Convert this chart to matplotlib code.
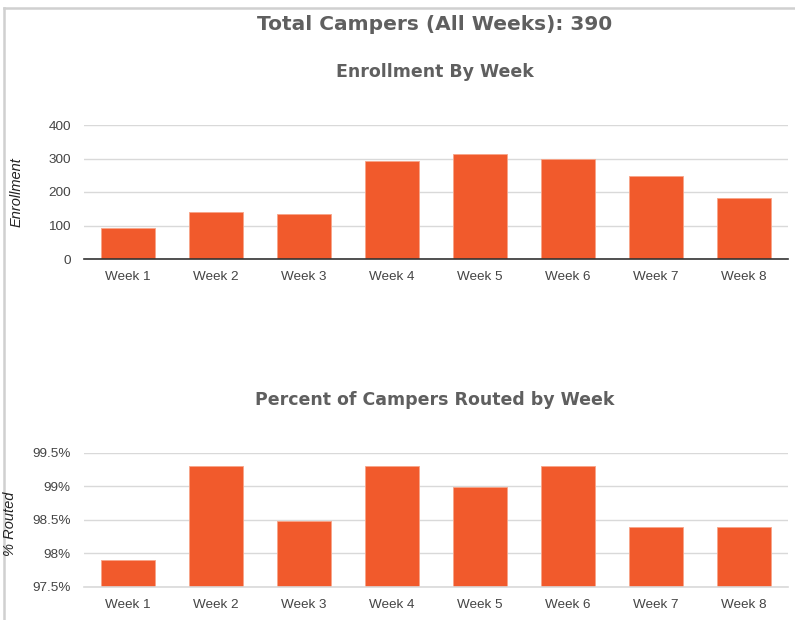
import numpy as np
import matplotlib.pyplot as plt
from matplotlib.lines import Line2D

weeks = ["Week 1", "Week 2", "Week 3", "Week 4", "Week 5", "Week 6", "Week 7", "Week 8"]
enrollment = [92, 140, 133, 293, 313, 298, 248, 183]
pct_routed = [97.9, 99.3, 98.48, 99.3, 98.99, 99.3, 98.39, 98.39]
total_campers = 390

enroll_ticks = [0, 100, 200, 300, 400]
pct_ticks = [97.5, 98.0, 98.5, 99.0, 99.5]
pct_tick_labels = ["97.5%", "98%", "98.5%", "99%", "99.5%"]

bar_color = "#f15a2c"
title_color = "#5f5f5f"
tick_color = "#444444"
grid_color = "#d9d9d9"

plt.rcParams["font.family"] = ["Liberation Sans", "DejaVu Sans"]

fig = plt.figure(figsize=(7.95, 6.2), dpi=100)
W, H = 795, 620


def px_axes(left, top, right, bottom):
    return fig.add_axes([left / W, 1 - bottom / H, (right - left) / W, (bottom - top) / H])


def style_axes(ax, ticks, labels, ymin, ymax, base_color):
    x = np.arange(len(weeks))
    ax.set_xlim(-0.5, len(weeks) - 0.5)
    ax.set_ylim(ymin, ymax)
    ax.set_yticks(ticks)
    ax.set_yticklabels(labels)
    ax.set_xticks(x)
    ax.set_xticklabels(weeks)
    ax.tick_params(axis="both", length=0, labelsize=9.7, colors=tick_color)
    ax.tick_params(axis="x", pad=9)
    ax.tick_params(axis="y", pad=9.5)
    ax.grid(axis="y", color=grid_color, linewidth=1)
    ax.set_axisbelow(True)
    for s in ["top", "right", "left"]:
        ax.spines[s].set_visible(False)
    ax.spines["bottom"].set_color(base_color)
    ax.spines["bottom"].set_linewidth(1.2)
    ax.spines["bottom"].set_zorder(3)


# top chart
ax1 = px_axes(84, 125, 788, 259)
x = np.arange(len(weeks))
ax1.bar(x, enrollment, width=0.615, color=bar_color, edgecolor="#f7a488", linewidth=0.6, zorder=2)
style_axes(ax1, enroll_ticks, [str(t) for t in enroll_ticks], 0, 400, "#333333")

# bottom chart
ax2 = px_axes(84, 452.7, 788, 586.7)
ax2.bar(x, np.array(pct_routed) - 97.5, bottom=97.5, width=0.615, color=bar_color,
        edgecolor="#f7a488", linewidth=0.6, zorder=2)
style_axes(ax2, pct_ticks, pct_tick_labels, 97.5, 99.5, grid_color)

# titles
fig.text(435 / W, 1 - 24 / H, f"Total Campers (All Weeks): {total_campers}", ha="center", va="center",
         fontsize=14.5, fontweight="bold", color=title_color, family=["DejaVu Sans"])
fig.text(435 / W, 1 - 72 / H, "Enrollment By Week", ha="center", va="center",
         fontsize=12.5, fontweight="bold", color=title_color, family=["DejaVu Sans"])
fig.text(435 / W, 1 - 400 / H, "Percent of Campers Routed by Week", ha="center", va="center",
         fontsize=12.5, fontweight="bold", color=title_color, family=["DejaVu Sans"])

# axis labels
fig.text(17 / W, 1 - 192 / H, "Enrollment", rotation=90, ha="center", va="center",
         fontsize=10.5, style="italic", color="#222222")
fig.text(10 / W, 1 - 524 / H, "% Routed", rotation=90, ha="center", va="center",
         fontsize=10.5, style="italic", color="#222222")

# card border
fig.add_artist(Line2D([3.5 / W, 3.5 / W], [0, 1 - 7.5 / H], color="#d0d0d0", linewidth=1.8))
fig.add_artist(Line2D([3.5 / W, 1], [1 - 7.5 / H, 1 - 7.5 / H], color="#d0d0d0", linewidth=1.8))

fig.savefig("out.png", dpi=100)
